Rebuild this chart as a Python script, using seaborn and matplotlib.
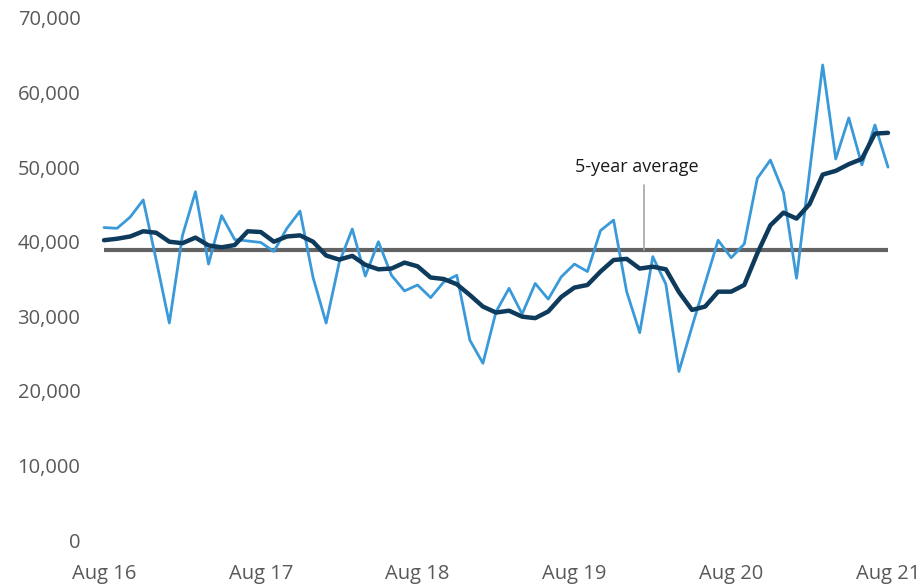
import matplotlib
matplotlib.use("Agg")
import matplotlib.pyplot as plt
import seaborn as sns
import pandas as pd
import numpy as np

# Monthly values, Aug 2016 - Aug 2021
monthly = [41900, 41800, 43300, 45600, 37500, 29100, 40800, 46700, 37000, 43500,
           40300, 40100, 39900, 38700, 41800, 44100, 35200, 29100, 37200, 41700,
           35400, 40000, 35500, 33400, 34200, 32500, 34600, 35500, 26800, 23700,
           30600, 33750, 30300, 34400, 32300, 35300, 37000, 36000, 41500, 42900,
           33300, 27800, 38000, 34300, 22600, 28600, 34400, 40200, 37850, 39700,
           48500, 50950, 46600, 35100, 49400, 63700, 51100, 56600, 50300, 55650,
           50000]
moving_avg = [40200, 40400, 40700, 41400, 41200, 40000, 39800, 40550, 39500, 39250,
              39550, 41400, 41300, 40000, 40700, 40850, 40000, 38150, 37600, 38100,
              36900, 36300, 36400, 37200, 36700, 35200, 35000, 34300, 32850, 31300,
              30500, 30750, 29950, 29750, 30650, 32600, 33850, 34200, 36000, 37550,
              37700, 36400, 36650, 36300, 33250, 30850, 31300, 33300, 33300, 34200,
              38450, 42200, 43900, 43100, 45050, 49000, 49500, 50400, 51100, 54500,
              54600]
five_year_avg = 38900
tick_labels = ["Aug 16", "Aug 17", "Aug 18", "Aug 19", "Aug 20", "Aug 21"]
y_ticks = [0, 10000, 20000, 30000, 40000, 50000, 60000, 70000]
annotation = "5-year average"

months = np.arange(len(monthly))
df = pd.DataFrame({"month": months, "monthly": monthly, "avg3": moving_avg,
                   "five": [five_year_avg] * len(monthly)})

sns.set_theme(style="white")
plt.rcParams["font.family"] = ["Open Sans", "DejaVu Sans"]

W, H = 921, 585
fig = plt.figure(figsize=(W / 100, H / 100), dpi=100)
ax = fig.add_axes([104 / W, (H - 540) / H, (888 - 104) / W, (540 - 18) / H])

sns.lineplot(data=df, x="month", y="five", ax=ax, color="#636363", linewidth=3.0,
             clip_on=False, solid_capstyle="butt")
sns.lineplot(data=df, x="month", y="monthly", ax=ax, color="#3A9AD9", linewidth=2.0,
             clip_on=False)
sns.lineplot(data=df, x="month", y="avg3", ax=ax, color="#0E3A5C", linewidth=3.2,
             clip_on=False, solid_capstyle="round")

# annotation leader line and label
lead_x = 41.35
ax.plot([lead_x, lead_x], [five_year_avg, 47600], color="#A6A6A6", linewidth=1.2)
ax.text(40.8, 49350, annotation, ha="center", va="baseline",
        fontsize=13, color="#1a1a1a")

ax.set_xlim(0, 60)
ax.set_ylim(0, 70000)
ax.set_xticks(np.arange(0, 61, 12))
ax.set_xticklabels(tick_labels)
ax.set_yticks(y_ticks)
ax.set_yticklabels([f"{v:,}" for v in y_ticks])
ax.tick_params(axis="both", length=0, labelsize=14.5, labelcolor="#595959")
ax.tick_params(axis="y", pad=17)
ax.tick_params(axis="x", pad=17)
ax.set_xlabel("")
ax.set_ylabel("")
for s in ax.spines.values():
    s.set_visible(False)
ax.grid(False)
ax.set_facecolor("white")

fig.savefig("out.png", dpi=100, facecolor="white")
